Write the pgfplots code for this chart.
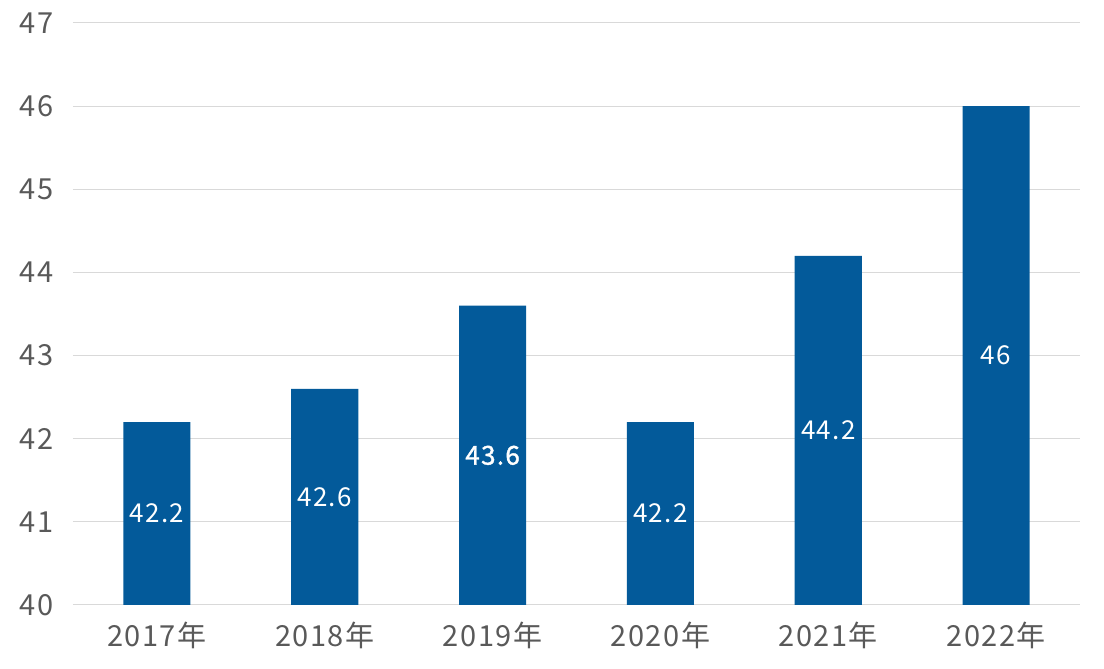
\documentclass[border=0pt]{standalone}
\usepackage{pgfplots}
\pgfplotsset{compat=1.18}
\usepackage{fontspec}
\setmainfont[LetterSpace=5]{Noto Sans CJK JP}
\newfontfamily\semibold[LetterSpace=5,FakeBold=1.5]{Noto Sans CJK JP}
\definecolor{barblue}{RGB}{3,90,154}
\definecolor{ticktext}{RGB}{89,89,89}
\definecolor{gridgray}{RGB}{217,217,217}
\begin{document}
\begin{tikzpicture}
\path[use as bounding box] (-73pt,-64pt) rectangle (1031pt,605pt);
\begin{axis}[
  scale only axis,
  width=1007pt, height=582pt,
  xmin=-0.5, xmax=5.5,
  ymin=40, ymax=47,
  ytick={40,41,...,47},
  xtick={0,1,2,3,4,5},
  xticklabels={2017年,2018年,2019年,2020年,2021年,2022年},
  axis line style={draw=none},
  major tick length=0pt,
  ymajorgrids,
  major grid style={gridgray, line width=1pt},
  /pgf/number format/assume math mode=true,
  ticklabel style={font=\fontsize{29}{32}\selectfont, text=ticktext},
  yticklabel style={anchor=east, xshift=-16pt},
  xticklabel style={anchor=north, yshift=-13pt},
  clip=false,
]
\addplot[ybar, bar width=0.4, fill=barblue, draw=none] coordinates {
  (0,42.2) (1,42.6) (2,43.6) (3,42.2) (4,44.2) (5,46)
};
\addplot[draw=none, mark=none, nodes near coords, point meta=explicit symbolic,
  nodes near coords style={anchor=center, text=white, font=\fontsize{26}{28}\selectfont}]
  coordinates {
  (0,41.1) [42.2]
  (1,41.3) [42.6]
  (2,41.8) [{\semibold 43.6}]
  (3,41.1) [42.2]
  (4,42.1) [44.2]
  (5,43.0) [46]
};
\end{axis}
\end{tikzpicture}
\end{document}
